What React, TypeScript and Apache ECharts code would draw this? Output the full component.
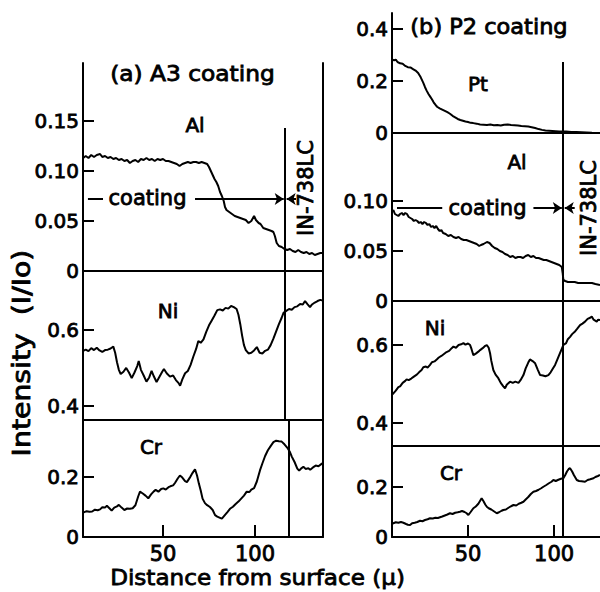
import React, { useEffect, useRef } from "react";
import * as echarts from "echarts";

// ---------- data: (x in µ, intensity I/Io) ----------
const aAl: [number, number][] = [[6.6,0.113],[8,0.115],[9.5,0.113],[11,0.116],[12.5,0.114],[14,0.116],[15.8,0.117],[17,0.114],[18.5,0.115],[20,0.113],[21.5,0.114],[23,0.112],[24.5,0.113],[26,0.111],[27.5,0.112],[29,0.11],[30.5,0.111],[32,0.108],[33.5,0.11],[35,0.111],[36.5,0.109],[38,0.112],[39.5,0.111],[41,0.113],[42.5,0.111],[44,0.112],[45.5,0.11],[47,0.112],[48.5,0.111],[50,0.112],[51.5,0.11],[53,0.11],[54.5,0.109],[56,0.108],[57.5,0.107],[59,0.105],[60.5,0.107],[62,0.108],[63.5,0.109],[65,0.108],[66.5,0.109],[68,0.109],[69.5,0.108],[71,0.109],[72.5,0.108],[74,0.107],[75,0.104],[76,0.1],[77,0.096],[78,0.092],[79,0.089],[80,0.085],[81,0.079],[82,0.075],[83,0.07],[83.7,0.064],[84.5,0.061],[86,0.059],[87.5,0.057],[89,0.055],[90.5,0.054],[92,0.053],[93.5,0.052],[95,0.051],[96.5,0.048],[98,0.05],[99.5,0.055],[100.5,0.051],[102,0.048],[103,0.047],[104.5,0.043],[106,0.042],[107.5,0.041],[109,0.04],[110,0.039],[110.8,0.035],[111.8,0.028],[113,0.025],[114.5,0.024],[116,0.022],[117.5,0.021],[119,0.022],[120.5,0.02],[122,0.019],[123.5,0.021],[125,0.019],[126.5,0.018],[128,0.019],[129.5,0.017],[131,0.018],[132.5,0.016],[134,0.017],[135.5,0.018],[136.8,0.018]];
const aNi: [number, number][] = [[6.6,0.545],[8,0.548],[9.5,0.544],[11,0.552],[12.5,0.547],[14,0.553],[15.5,0.546],[17,0.542],[18.5,0.547],[20,0.548],[21.5,0.551],[23,0.556],[24,0.54],[25,0.515],[26,0.495],[27,0.484],[28.5,0.49],[30,0.5],[31.5,0.488],[33,0.473],[34.5,0.488],[36,0.505],[36.8,0.518],[38,0.495],[39.5,0.48],[41,0.464],[42.5,0.475],[43.8,0.492],[45,0.478],[46.5,0.463],[48,0.476],[49.5,0.489],[50.5,0.497],[52,0.486],[53.8,0.477],[55.5,0.48],[57,0.468],[58.5,0.46],[59.3,0.453],[60.5,0.47],[62,0.486],[63.5,0.492],[65,0.508],[66.5,0.53],[68,0.55],[69.2,0.571],[70.5,0.566],[72,0.575],[73.5,0.595],[75,0.612],[76.5,0.625],[78,0.638],[79.5,0.652],[81,0.654],[82.5,0.651],[84,0.658],[85.5,0.656],[87,0.663],[88.5,0.66],[90,0.655],[91,0.64],[92,0.615],[93,0.585],[94,0.56],[95,0.547],[96.5,0.538],[98,0.54],[99.5,0.546],[101,0.555],[102.5,0.54],[104,0.538],[105.5,0.545],[107,0.548],[108.5,0.56],[110,0.577],[111.5,0.596],[113,0.615],[114.5,0.632],[115.5,0.645],[117,0.65],[118.5,0.655],[120,0.653],[121.5,0.66],[123,0.662],[124.5,0.668],[126,0.667],[127.2,0.676],[128.5,0.668],[129.9,0.66],[131,0.667],[132.5,0.672],[134,0.676],[135.5,0.679],[136.8,0.677]];
const aCr: [number, number][] = [[6.6,0.081],[8.5,0.086],[10,0.084],[11.5,0.085],[13,0.091],[14.5,0.089],[15.8,0.092],[17,0.099],[18.5,0.098],[19.5,0.104],[21,0.095],[22.1,0.088],[23.5,0.098],[25,0.102],[26,0.107],[27.5,0.098],[29,0.09],[30.5,0.095],[32,0.094],[33.5,0.096],[35,0.106],[36.5,0.135],[37.5,0.151],[39,0.145],[40.5,0.138],[42,0.129],[43.5,0.142],[45,0.152],[46,0.157],[47.5,0.151],[49,0.16],[50.2,0.162],[51.5,0.158],[53,0.166],[54,0.169],[55.5,0.172],[56.5,0.18],[58,0.195],[59.2,0.205],[60.5,0.198],[62,0.186],[63,0.183],[64.5,0.197],[66,0.213],[67.4,0.226],[68.5,0.205],[69.5,0.178],[70.5,0.155],[71.5,0.128],[72.8,0.113],[74,0.106],[75.5,0.1],[77,0.09],[78.3,0.073],[79.5,0.068],[81,0.064],[82,0.061],[83.5,0.072],[85,0.083],[86.4,0.094],[88,0.101],[89.5,0.11],[91,0.118],[92.5,0.128],[94,0.138],[95.5,0.151],[97,0.15],[98,0.158],[99.5,0.163],[101,0.185],[102.7,0.222],[104,0.245],[105.5,0.27],[107,0.289],[108.5,0.303],[110,0.316],[111.5,0.321],[113,0.319],[114.5,0.318],[116,0.309],[117.5,0.298],[119,0.283],[120,0.268],[121.5,0.25],[123,0.228],[124,0.221],[125,0.228],[126.3,0.234],[127.5,0.227],[129,0.229],[130,0.224],[131.5,0.232],[133,0.238],[134.5,0.236],[136,0.243],[136.8,0.246]];

const bPt: [number, number][] = [[5.8,0.283],[7,0.279],[8,0.282],[9,0.273],[10.5,0.268],[12,0.266],[13.5,0.258],[15,0.253],[16.5,0.252],[18,0.246],[19.5,0.24],[21,0.231],[22.5,0.214],[24,0.193],[25,0.176],[26,0.162],[27,0.15],[28,0.14],[29,0.13],[30,0.118],[31,0.109],[32,0.101],[33.5,0.095],[35,0.09],[36.5,0.085],[38,0.08],[39.5,0.074],[41,0.066],[42.5,0.06],[44,0.054],[45.5,0.05],[47,0.047],[48.5,0.044],[50,0.042],[51.5,0.039],[53,0.038],[55,0.036],[57,0.033],[59,0.032],[61,0.031],[63,0.033],[65,0.03],[67,0.031],[69,0.029],[71,0.032],[73,0.033],[75,0.031],[77,0.03],[79,0.029],[81,0.027],[83,0.026],[85,0.025],[87,0.022],[89,0.019],[91,0.015],[93,0.012],[95,0.01],[97,0.009],[99,0.008],[101,0.007],[103,0.006],[105,0.006],[107,0.006],[110,0.004],[113,0.004],[116,0.003],[119,0.002],[122,0.001],[126.7,0]];
const bAl: [number, number][] = [[5.8,0.089],[6.6,0.091],[7.5,0.087],[8.5,0.086],[9.5,0.085],[10.5,0.087],[11.5,0.088],[12.5,0.086],[13.5,0.088],[14.5,0.087],[15.5,0.084],[16.5,0.083],[17.5,0.082],[18.5,0.08],[19.5,0.081],[20.5,0.08],[21.5,0.078],[22.5,0.079],[23.5,0.077],[24.5,0.079],[25.5,0.078],[26.5,0.076],[27.5,0.077],[28.5,0.074],[29.5,0.075],[30.5,0.073],[31.5,0.075],[32.5,0.072],[33.5,0.07],[34.5,0.071],[35.5,0.068],[37,0.067],[38.5,0.065],[40,0.066],[41.5,0.064],[43,0.063],[44.5,0.064],[46,0.062],[47.5,0.061],[49,0.061],[50.5,0.06],[52,0.059],[53.5,0.058],[55,0.057],[56.5,0.055],[57.5,0.056],[59,0.057],[60,0.058],[61,0.059],[62.5,0.058],[64,0.055],[65.5,0.053],[67,0.052],[68.5,0.05],[70,0.049],[71.5,0.047],[73,0.046],[74.5,0.044],[76,0.045],[77.5,0.043],[79,0.044],[80.5,0.044],[82,0.043],[83.5,0.045],[85,0.046],[86.5,0.044],[88,0.045],[89.5,0.043],[91,0.043],[92.5,0.042],[94,0.041],[95.5,0.041],[97,0.04],[98.5,0.039],[100,0.038],[101.5,0.037],[103,0.036],[104.5,0.034],[105,0.028],[105.4,0.021],[106.5,0.02],[108,0.019],[110,0.019],[112,0.019],[114,0.018],[116,0.018],[118,0.018],[120,0.018],[122,0.018],[124,0.017],[126.7,0.016]];
const bNi: [number, number][] = [[5.8,0.472],[6.6,0.476],[8,0.483],[9.5,0.492],[10.5,0.494],[12,0.503],[13.5,0.508],[14.3,0.512],[15.5,0.51],[17,0.514],[18.5,0.519],[20.2,0.524],[21.5,0.53],[23,0.536],[24,0.543],[25.5,0.545],[26.5,0.542],[27.9,0.549],[29,0.556],[30.5,0.558],[31.8,0.563],[33,0.568],[34.5,0.572],[36,0.577],[37.5,0.582],[39,0.585],[40.5,0.592],[41.5,0.596],[43,0.593],[44.5,0.6],[46,0.602],[47.3,0.605],[48.5,0.601],[50,0.604],[51.2,0.6],[52,0.59],[53.1,0.574],[54.5,0.578],[56,0.583],[57,0.587],[58.5,0.592],[60,0.598],[60.9,0.6],[62,0.593],[62.8,0.579],[63.5,0.56],[64.7,0.536],[66,0.524],[67.6,0.515],[69,0.503],[70.5,0.494],[71.5,0.489],[72.5,0.498],[74.4,0.506],[76,0.503],[77.5,0.506],[79.3,0.503],[80.5,0.51],[82.2,0.523],[83.5,0.54],[85,0.555],[86,0.563],[87.5,0.559],[89,0.553],[90.5,0.537],[91.9,0.523],[93.5,0.522],[95,0.52],[96.7,0.523],[98,0.53],[99.5,0.541],[100.6,0.549],[102,0.564],[103.5,0.58],[105.4,0.6],[107,0.605],[108,0.615],[109.3,0.621],[110.5,0.628],[112,0.634],[113.5,0.642],[115.1,0.651],[116.5,0.655],[118,0.66],[119.5,0.667],[121,0.67],[121.9,0.673],[123,0.665],[124.8,0.66],[125.5,0.665],[126.7,0.664]];
const bCr: [number, number][] = [[5.8,0.053],[6.6,0.055],[8,0.059],[9.5,0.057],[11,0.06],[12.4,0.057],[14,0.052],[15,0.049],[16.3,0.048],[17.5,0.055],[19,0.057],[20.5,0.06],[22.1,0.065],[23.5,0.063],[25,0.068],[26.5,0.071],[27.9,0.075],[29.5,0.074],[31,0.077],[32.5,0.076],[33.7,0.079],[35,0.082],[36.5,0.086],[38,0.09],[39.5,0.095],[41,0.092],[42.5,0.097],[44,0.099],[45.3,0.101],[46.5,0.104],[48,0.1],[49,0.096],[50.2,0.088],[51.5,0.1],[53.1,0.115],[54.5,0.122],[56,0.133],[57.9,0.155],[59,0.143],[60,0.13],[60.9,0.121],[62,0.115],[63.5,0.11],[65,0.103],[66.7,0.095],[68,0.099],[69.5,0.105],[70.5,0.108],[72,0.11],[73.5,0.117],[75,0.123],[76.4,0.128],[78,0.126],[79.5,0.133],[81,0.137],[82.2,0.141],[83.5,0.15],[85,0.16],[86.5,0.172],[88,0.181],[89.5,0.184],[91,0.189],[92.5,0.195],[93.8,0.201],[95.5,0.208],[97,0.215],[98.5,0.221],[99.6,0.228],[101,0.224],[102.5,0.229],[104,0.233],[105.4,0.235],[106.5,0.248],[107.5,0.262],[108.5,0.272],[109.3,0.275],[110.5,0.262],[111.5,0.248],[113.2,0.228],[114.5,0.224],[116,0.223],[118,0.221],[119.5,0.228],[121,0.231],[122.9,0.235],[124,0.24],[125.5,0.244],[126.7,0.248]];

// tick values
const xTicks = [50, 100];
const tickAl = [0, 0.05, 0.1, 0.15];
const tickNi = [0.4, 0.6];
const tickCr = [0, 0.2];
const tickPt = [0, 0.2, 0.4];
const tickAlB = [0, 0.05, 0.1];

// boundary positions (µ)
const aBoundary = { al: 116.3, ni: 116.4, cr: 118.5 };
const bBoundary = 105.2;

const FONT = "DejaVu Sans";
const BLACK = "#000";
const HEAVY = 0.8; // extra outline to mimic the scanned (semi-bold) print

const fmt2 = (v: number) => (Math.abs(v) < 1e-9 ? "0" : v.toFixed(2));
const fmt1 = (v: number) => (Math.abs(v) < 1e-9 ? "0" : v.toFixed(1));

const labelStyle = { color: BLACK, fontSize: 20, fontFamily: FONT, textBorderColor: BLACK, textBorderWidth: HEAVY };

function xAx(grid: number, min: number, max: number, bottom: boolean) {
  return {
    type: "value", gridIndex: grid, min, max,
    axisLine: { show: true, onZero: false, lineStyle: { color: BLACK, width: 2 } },
    axisTick: { show: bottom, inside: true, length: 12, customValues: xTicks, lineStyle: { color: BLACK, width: 2 } },
    axisLabel: { show: bottom, customValues: xTicks, margin: 6, ...labelStyle, fontSize: 21 },
    splitLine: { show: false },
  };
}
function yAx(grid: number, min: number, max: number, labels: number[], fmt: (v: number) => string) {
  return {
    type: "value", gridIndex: grid, min, max, position: "left",
    axisLine: { show: true, onZero: false, lineStyle: { color: BLACK, width: 2 } },
    axisTick: { show: true, inside: true, length: 11, customValues: labels.filter((v) => v !== 0), lineStyle: { color: BLACK, width: 2 } },
    axisLabel: { show: true, customValues: labels, formatter: fmt, margin: 4, ...labelStyle },
    splitLine: { show: false },
  };
}
function yRight(grid: number, min: number, max: number) {
  return {
    type: "value", gridIndex: grid, min, max, position: "right",
    axisLine: { show: true, onZero: false, lineStyle: { color: BLACK, width: 2 } },
    axisTick: { show: false }, axisLabel: { show: false }, splitLine: { show: false },
  };
}

const LS = { color: BLACK, width: 2, type: "solid" as const };
function vline(x: number, top: number, bottom: number) {
  return [{ coord: [x, top], symbol: "none" }, { coord: [x, bottom], symbol: "none" }];
}
function seg(x1: number, x2: number, y: number, arrow: boolean) {
  return [{ coord: [x1, y], symbol: "none" }, { coord: [x2, y], symbol: arrow ? "arrow" : "none" }];
}
function series(data: [number, number][], xi: number, yi: number, marks: any[]) {
  return {
    type: "line", data, xAxisIndex: xi, yAxisIndex: yi, showSymbol: false, symbol: "none",
    lineStyle: { color: BLACK, width: 2 }, silent: true, z: 3,
    markLine: marks.length ? { silent: true, symbol: ["none", "none"], symbolSize: 9, label: { show: false }, lineStyle: LS, data: marks, animation: false } : undefined,
  };
}

function txt(text: string, x: number, y: number, size: number, opts: any = {}) {
  return {
    type: "text", x, y, rotation: opts.rotation || 0, scaleX: opts.scaleX || 1, z: 10,
    style: { text, fill: BLACK, stroke: BLACK, lineWidth: HEAVY, font: `${size}px "${FONT}"`, align: "center", verticalAlign: "middle", textAlign: "center", textVerticalAlign: "middle" },
  };
}

export default function App() {
  const ref = useRef<HTMLDivElement>(null);
  useEffect(() => {
    if (!ref.current) return;
    const chart = echarts.init(ref.current, undefined, { renderer: "svg" });
    const aMin = 6.52, aMax = 136.96, bMin = 5.8, bMax = 126.7;
    const option: any = {
      animation: false,
      backgroundColor: "#fff",
      grid: [
        { left: 83, width: 240, top: 63, height: 208 },
        { left: 83, width: 240, top: 271, height: 149 },
        { left: 83, width: 240, top: 420, height: 117 },
        { left: 392, right: 0, top: 13, height: 120 },
        { left: 392, right: 0, top: 133, height: 168 },
        { left: 392, right: 0, top: 301, height: 145 },
        { left: 392, right: 0, top: 446, height: 91 },
      ],
      xAxis: [
        xAx(0, aMin, aMax, false), xAx(1, aMin, aMax, false), xAx(2, aMin, aMax, true),
        xAx(3, bMin, bMax, false), xAx(4, bMin, bMax, false), xAx(5, bMin, bMax, false), xAx(6, bMin, bMax, true),
      ],
      yAxis: [
        yAx(0, 0, 0.208, tickAl, fmt2), yRight(0, 0, 0.208),
        yAx(1, 0.363, 0.755, tickNi, fmt1), yRight(1, 0.363, 0.755),
        yAx(2, 0, 0.39, tickCr, fmt1), yRight(2, 0, 0.39),
        yAx(3, 0, 0.4615, tickPt, fmt1),
        yAx(4, 0, 0.168, tickAlB, fmt2),
        yAx(5, 0.341, 0.713, tickNi, fmt1),
        yAx(6, 0, 0.364, tickCr, fmt1),
      ],
      series: [
        series(aAl, 0, 0, [
          vline(aBoundary.al, 0.143, 0),
          seg(9.2, 17.4, 0.072, false),
          seg(67.4, 115.6, 0.072, true),
          seg(122.3, 117.2, 0.072, true),
        ]),
        series(aNi, 1, 2, [vline(aBoundary.ni, 0.755, 0.363)]),
        series(aCr, 2, 4, [vline(aBoundary.cr, 0.39, 0)]),
        series(bPt, 3, 6, [vline(bBoundary, 0.273, 0)]),
        series(bAl, 4, 7, [
          vline(bBoundary, 0.168, 0),
          seg(8.7, 35, 0.093, false),
          seg(88, 104.5, 0.093, true),
          seg(112, 106.2, 0.093, true),
        ]),
        series(bNi, 5, 8, [vline(bBoundary, 0.713, 0.341)]),
        series(bCr, 6, 9, [vline(bBoundary, 0.364, 0)]),
      ],
      graphic: [
        txt("(a) A3 coating", 192.5, 73, 21, { scaleX: 1.11 }),
        txt("Al", 195, 125, 20),
        txt("Ni", 168, 311, 20),
        txt("Cr", 151, 447, 20),
        txt("IN-738LC", 306, 188, 21, { rotation: Math.PI / 2 }),
        txt("coating", 147.5, 198, 21),
        txt("(b) P2 coating", 489, 27, 21, { scaleX: 1.07 }),
        txt("Pt", 478, 84, 20),
        txt("Al", 517, 162, 20),
        txt("Ni", 435, 328, 20),
        txt("Cr", 451, 473, 20),
        txt("IN-738LC", 589, 208, 21, { rotation: Math.PI / 2 }),
        txt("coating", 487.5, 208, 21),
        txt("Intensity  (I/Io)", 22, 353, 24, { rotation: Math.PI / 2, scaleX: 1.18 }),
        txt("Distance from surface (μ)", 257.5, 577, 22, { scaleX: 1.05 }),
      ],
    };
    chart.setOption(option);
    return () => chart.dispose();
  }, []);
  return <div ref={ref} style={{ position: "absolute", left: 0, top: 0, width: 600, height: 592 }} />;
}
